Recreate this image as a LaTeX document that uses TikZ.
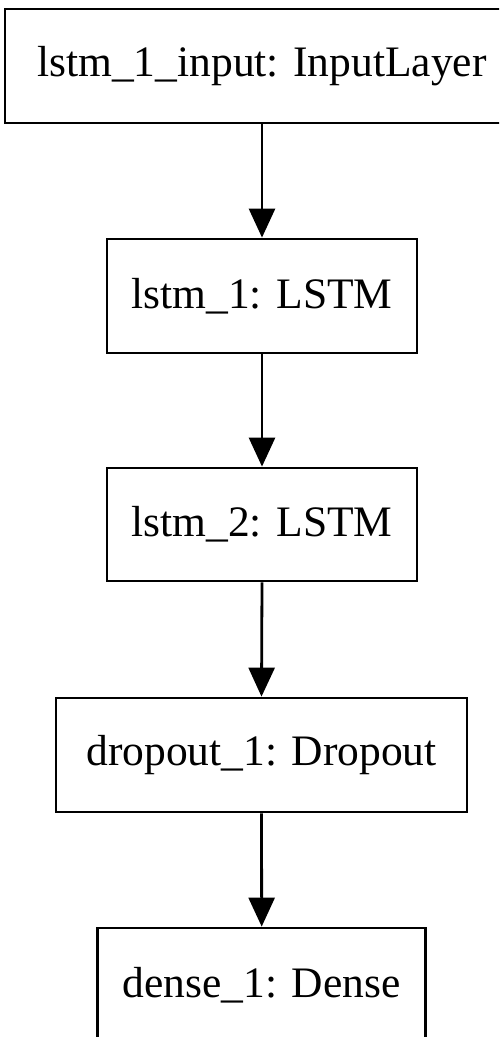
\documentclass[tikz,border=0pt]{standalone}
\usepackage{fontspec}
\newfontfamily\layerfont{Liberation Serif}
\usetikzlibrary{arrows.meta}
\begin{document}
\begin{tikzpicture}[x=1pt,y=-1pt,
  layer/.style={draw=black,line width=2.8pt,rectangle,inner sep=0pt,
    font=\layerfont\fontsize{43.5}{52}\selectfont,text=black},
  flow/.style={line width=2.8pt,-{Triangle[length=29pt,width=26pt]}}]
\clip (0,0) rectangle (499,1037);
\fill[white] (0,0) rectangle (499,1037);
\node[layer,minimum width=514pt,minimum height=114pt] (in) at (262,66) {lstm\_1\_input: InputLayer};
\node[layer,minimum width=310pt,minimum height=114pt] (l1) at (262,296) {lstm\_1: LSTM};
\node[layer,minimum width=310pt,minimum height=113pt] (l2) at (262,524.5) {lstm\_2: LSTM};
\node[layer,minimum width=411pt,minimum height=114pt] (d1) at (261.5,755) {dropout\_1: Dropout};
\node[layer,minimum width=328pt,minimum height=114pt] (de) at (261.7,985) {dense\_1: Dense};
\draw[flow] (in.south) -- (l1.north);
\draw[flow] (l1.south) -- (l2.north);
\draw[flow] (l2.south) -- (d1.north);
\draw[flow] (d1.south) -- (de.north);
\end{tikzpicture}
\end{document}
